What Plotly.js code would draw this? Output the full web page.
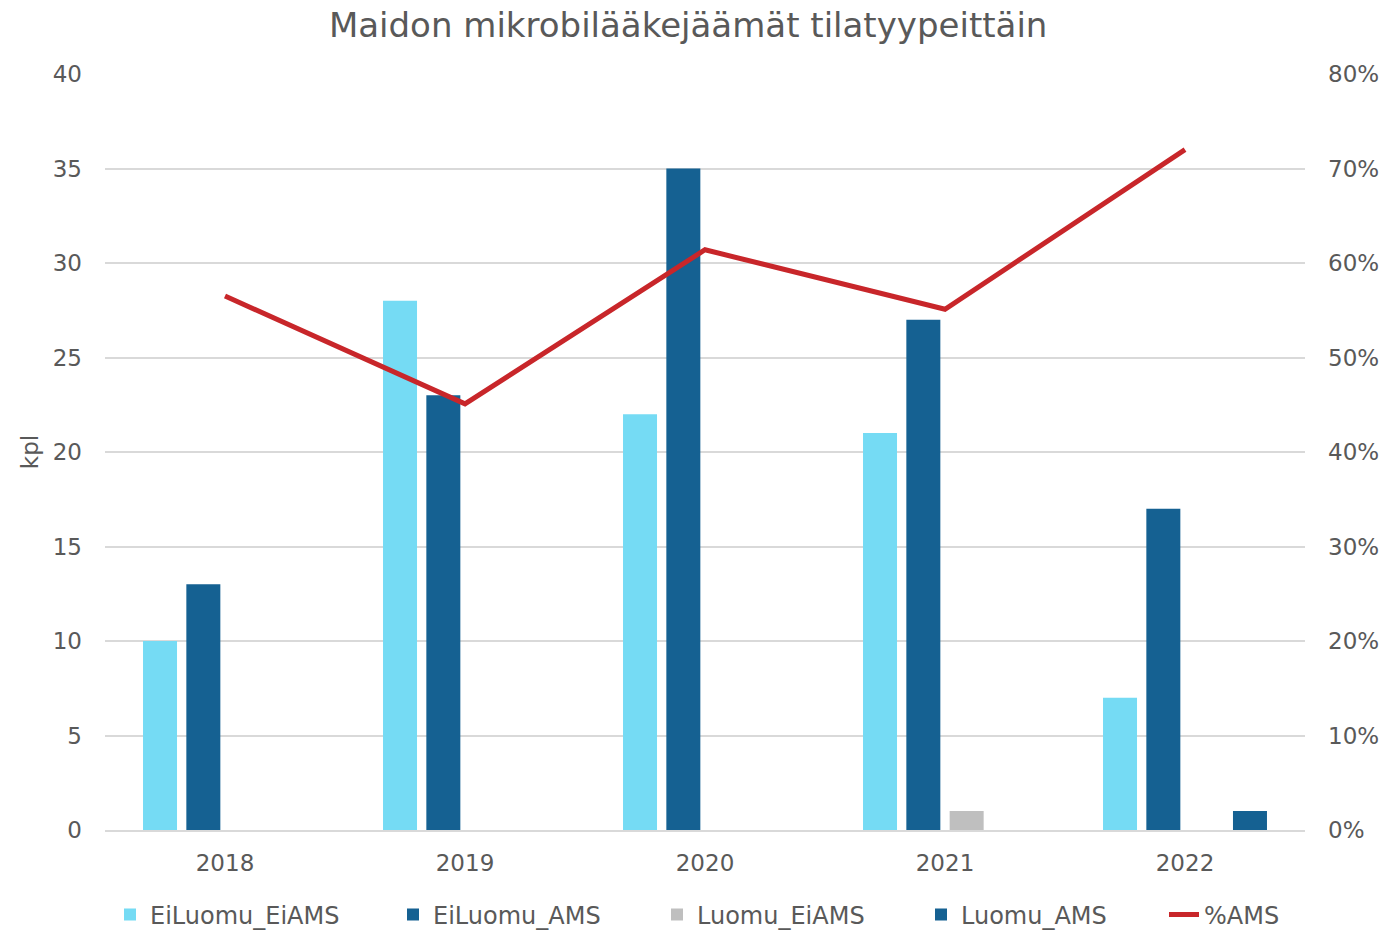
<!DOCTYPE html>
<html><head><meta charset="utf-8">
<script src="https://cdn.plot.ly/plotly-3.0.1.min.js"></script>
<style>html,body{margin:0;padding:0;background:#fff}</style>
</head><body>
<div id="chart" style="width:1393px;height:930px"></div>
<script>
const years = ['2018','2019','2020','2021','2022'];
const eiLuomuEiAMS = [10, 28, 22, 21, 7];
const eiLuomuAMS = [13, 23, 35, 27, 17];
const luomuEiAMS = [0, 0, 0, 1, 0];
const luomuAMS = [0, 0, 0, 0, 1];
const pctAMS = [0.565, 0.451, 0.614, 0.551, 0.72];

const FONT = '"DejaVu Sans", sans-serif';
const TXT = '#595959';

function bar(name, y, color, leg) {
  return {type:'bar', name:name, x:years, y:y, marker:{color:color, line:{width:0}}, legend:leg};
}
const traces = [
  bar('EiLuomu_EiAMS', eiLuomuEiAMS, '#75DBF4', 'legend'),
  bar('EiLuomu_AMS', eiLuomuAMS, '#156192', 'legend2'),
  bar('Luomu_EiAMS', luomuEiAMS, '#BFBFBF', 'legend3'),
  bar('Luomu_AMS', luomuAMS, '#156192', 'legend4'),
  {type:'scatter', mode:'lines', name:'%AMS', x:years, y:pctAMS, yaxis:'y2',
   line:{color:'#C8262A', width:5}, legend:'legend5'}
];

function leg(textStart) {
  return {orientation:'h', x:(textStart-40-105)/1200, xanchor:'left', y:-85/756, yanchor:'middle',
    font:{family:FONT, size:24, color:TXT}, bgcolor:'rgba(0,0,0,0)', itemwidth:30, tracegroupgap:0};
}

const layout = {
  width:1393, height:930,
  margin:{l:105, r:88, t:74, b:100, autoexpand:false},
  paper_bgcolor:'#fff', plot_bgcolor:'#fff',
  font:{family:FONT, color:TXT},
  title:{text:'Maidon mikrobilääkejäämät tilatyypeittäin', x:0.494, xanchor:'center', y:0.973, yanchor:'middle',
    font:{family:FONT, size:34, color:TXT}},
  barmode:'group', bargap:0.278, bargroupgap:0.215,
  xaxis:{type:'category', showgrid:false, showline:true, linecolor:'#D9D9D9', linewidth:1.5,
    ticks:'', tickfont:{family:FONT, size:23, color:TXT}, ticklabelstandoff:12},
  yaxis:{range:[0,40], dtick:5, showgrid:true, gridcolor:'#D9D9D9', gridwidth:1.5, zeroline:false,
    ticks:'', tickfont:{family:FONT, size:23, color:TXT}, ticklabelstandoff:22,
    title:{text:'kpl', font:{family:FONT, size:23, color:TXT}, standoff:7}},
  yaxis2:{range:[0,0.8], dtick:0.1, tickformat:'.0%', overlaying:'y', side:'right', showgrid:false,
    zeroline:false, ticks:'', tickfont:{family:FONT, size:23, color:TXT}, ticklabelstandoff:22},
  showlegend:true,
  legend:leg(150), legend2:leg(433), legend3:leg(697), legend4:leg(961), legend5:leg(1204)
};

Plotly.newPlot('chart', traces, layout, {displayModeBar:false});
</script>
</body></html>
